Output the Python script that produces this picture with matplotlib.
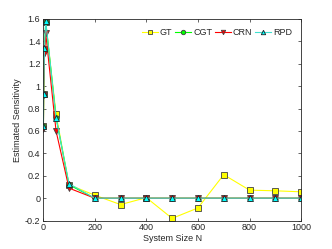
import matplotlib
matplotlib.use('Agg')
import matplotlib.pyplot as plt

# system sizes and estimated sensitivities for each method
sizes = [1, 2, 5, 10, 50, 100, 200, 300, 400, 500, 600, 700, 800, 900, 1000]
gt = [0.64, 0.93, 1.33, 1.57, 0.75, 0.12, 0.027, -0.057, 0.005, -0.18, -0.087, 0.21, 0.072, 0.066, 0.057]
cgt = [0.64, 0.93, 1.33, 1.57, 0.72, 0.12, 0.0, 0.0, 0.0, 0.0, 0.0, 0.0, 0.0, 0.0, 0.0]
crn = [0.62, 0.92, 1.29, 1.47, 0.60, 0.09, 0.0, 0.0, 0.0, 0.0, 0.0, 0.0, 0.0, 0.0, 0.0]
rpd = [0.64, 0.93, 1.34, 1.58, 0.72, 0.13, 0.0, 0.0, 0.0, 0.0, 0.0, 0.0, 0.0, 0.0, 0.0]

plt.rcParams['font.family'] = ['Liberation Sans', 'DejaVu Sans']
plt.rcParams['font.size'] = 6.5

fig = plt.figure(figsize=(3.32, 2.49), dpi=100)
ax = fig.add_axes([0.13, 0.114, 0.777, 0.81])

ax.plot(sizes, gt, color='#ffff00', lw=0.8, marker='s', ms=4, mfc='#ffff00', mec='#404040', mew=0.6, label='GT')
ax.plot(sizes, cgt, color='#00ff00', lw=0.8, marker='o', ms=4, mfc='#00ff00', mec='#404040', mew=0.6, label='CGT')
ax.plot(sizes, crn, color='#ff0000', lw=0.8, marker='v', ms=4, mfc='#ff0000', mec='#404040', mew=0.6, label='CRN')
ax.plot(sizes, rpd, color='#40e0d0', lw=0.8, marker='^', ms=4, mfc='#00ffff', mec='#202020', mew=0.6, label='RPD')

ax.set_xlim(0, 1000)
ax.set_ylim(-0.2, 1.6)
ax.set_xticks(range(0, 1001, 200))
ax.set_yticks([-0.2, 0, 0.2, 0.4, 0.6, 0.8, 1, 1.2, 1.4, 1.6])
ax.set_yticklabels(['-0.2', '0', '0.2', '0.4', '0.6', '0.8', '1', '1.2', '1.4', '1.6'])
ax.tick_params(direction='in', top=True, right=True, length=2, width=0.5, colors='#262626', pad=2)
for s in ax.spines.values():
    s.set_linewidth(0.6)
    s.set_color('#262626')

ax.set_xlabel('System Size N', color='#262626', labelpad=1)
ax.set_ylabel('Estimated Sensitivity', color='#262626', labelpad=2)

ax.legend(loc='upper right', ncol=4, frameon=False, handlelength=1.8, handletextpad=0.2,
          columnspacing=0.3, borderaxespad=0.6, markerscale=0.8, fontsize=6.5,
          labelcolor='#262626')

fig.savefig('out.png', dpi=100)
